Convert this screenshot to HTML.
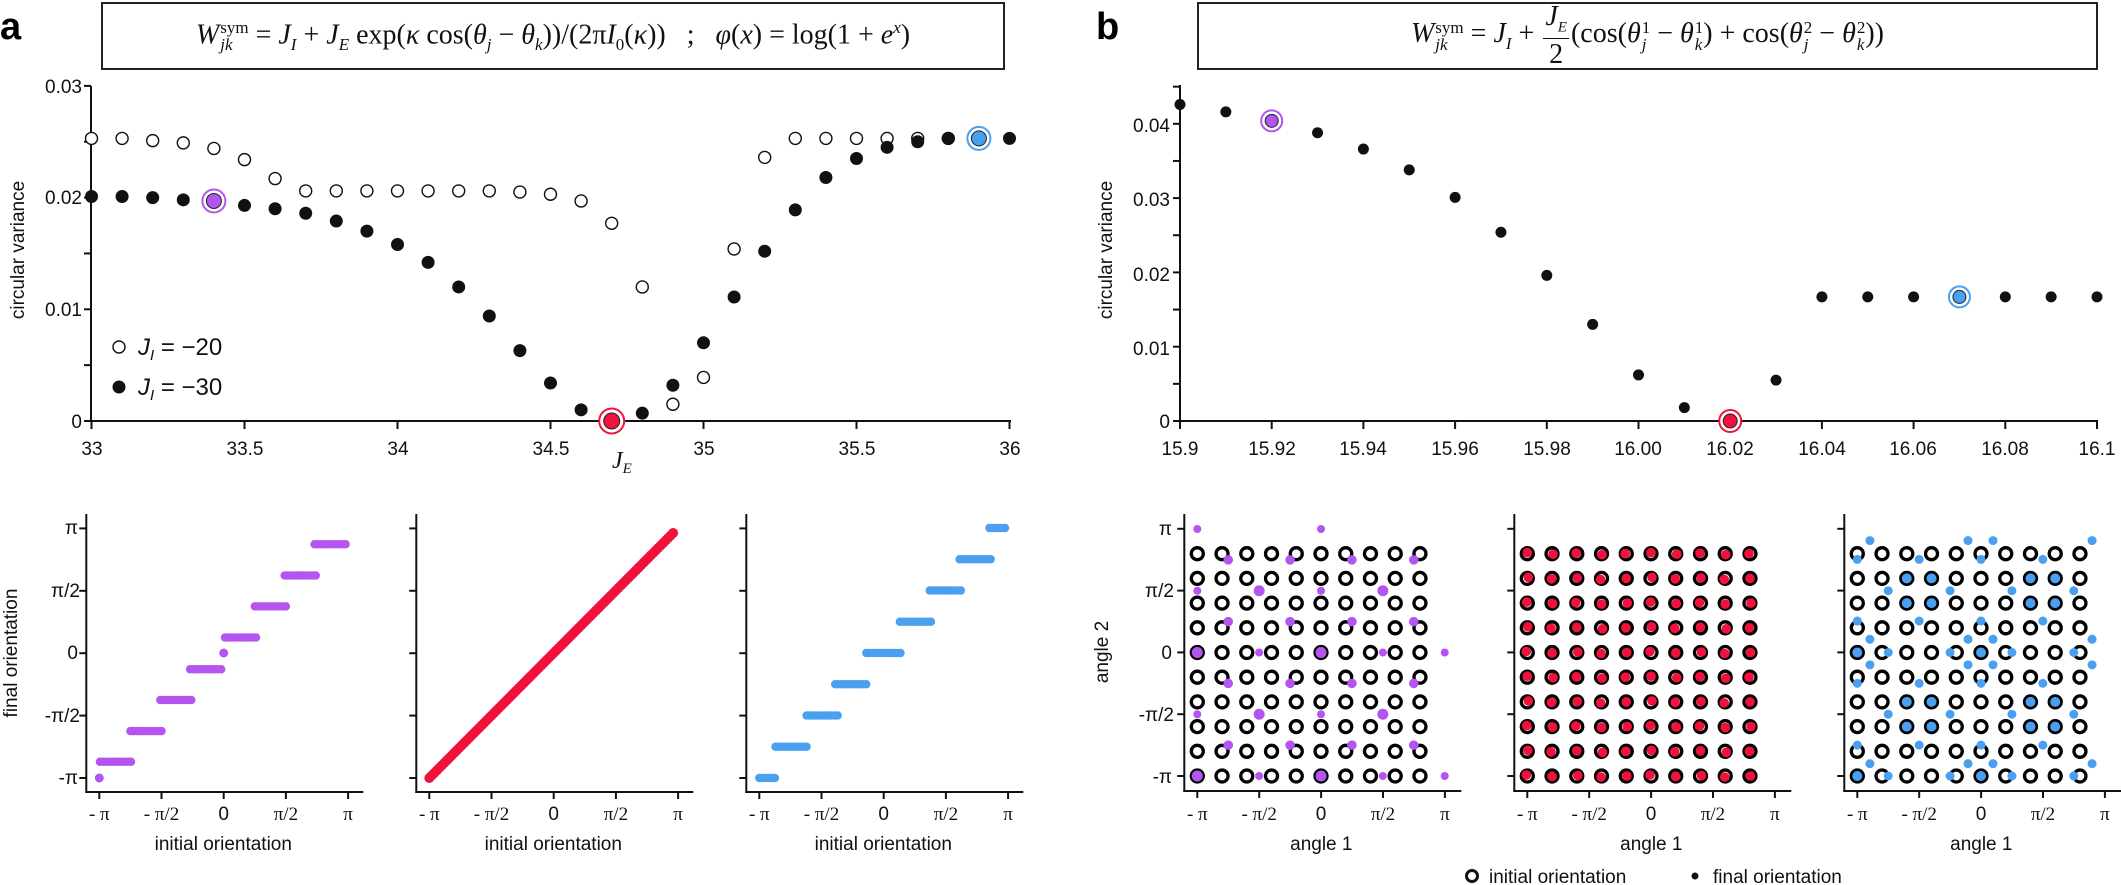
<!DOCTYPE html>
<html><head><meta charset="utf-8">
<style>
html,body{margin:0;padding:0;background:#fff;}
body{width:2121px;height:885px;position:relative;overflow:hidden;font-family:"Liberation Sans",sans-serif;}
.box{position:absolute;border:2px solid #222;box-sizing:border-box;background:#fff;display:flex;align-items:center;justify-content:center;font-family:"Liberation Serif",serif;font-size:28px;color:#111;white-space:nowrap;}
.box i{font-style:italic;}
.fr{display:inline-block;vertical-align:middle;text-align:center;line-height:1;margin:0 2px;}
.fr span{display:block;}
.fr .n{border-bottom:1.5px solid #111;padding:0 2px 2px;}
.fr .d{padding-top:2px;}
.ss{display:inline-block;vertical-align:middle;line-height:1;font-size:17px;text-align:left;margin-left:1px;}
.ss span{display:block;}
.lab{position:absolute;font-weight:bold;font-size:38px;font-family:"Liberation Sans",sans-serif;}
svg{position:absolute;left:0;top:0;}
svg text{font-family:"Liberation Sans",sans-serif;fill:#111;}
</style></head><body>
<div class="lab" style="left:0;top:6px;">a</div>
<div class="lab" style="left:1096px;top:6px;">b</div>
<div class="box" style="left:101px;top:2px;width:904px;height:68px;">
<span><i>W</i><span class="ss"><span>sym</span><span><i>jk</i></span></span> = <i>J</i><sub style="font-size:17px"><i>I</i></sub> + <i>J</i><sub style="font-size:17px"><i>E</i></sub> exp(<i>κ</i> cos(<i>θ</i><sub style="font-size:17px"><i>j</i></sub> − <i>θ</i><sub style="font-size:17px"><i>k</i></sub>))/(2π<i>I</i><sub style="font-size:17px">0</sub>(<i>κ</i>)) &nbsp;&nbsp;;&nbsp;&nbsp; <i>φ</i>(<i>x</i>) = log(1 + <i>e</i><sup style="font-size:17px"><i>x</i></sup>)</span>
</div>
<div class="box" style="left:1197px;top:2px;width:901px;height:68px;">
<span><i>W</i><span class="ss"><span>sym</span><span><i>jk</i></span></span> = <i>J</i><sub style="font-size:17px"><i>I</i></sub> + <span class="fr"><span class="n"><i>J</i><sub style="font-size:15px"><i>E</i></sub></span><span class="d">2</span></span>(cos(<i>θ</i><span class="ss"><span>1</span><span><i>j</i></span></span> − <i>θ</i><span class="ss"><span>1</span><span><i>k</i></span></span>) + cos(<i>θ</i><span class="ss"><span>2</span><span><i>j</i></span></span> − <i>θ</i><span class="ss"><span>2</span><span><i>k</i></span></span>))</span>
</div>

<svg id="s" width="2121" height="885" viewBox="0 0 2121 885">
<g stroke="#111" stroke-width="2" fill="none" id="axes"></g>
<g id="pts"></g>
<g font-size="19" text-anchor="end">
<text x="82" y="93">0.03</text><text x="82" y="204">0.02</text><text x="82" y="316">0.01</text><text x="82" y="428">0</text>
</g>
<g font-size="19" text-anchor="middle">
<text x="92" y="455">33</text><text x="245" y="455">33.5</text><text x="398" y="455">34</text><text x="551" y="455">34.5</text><text x="704" y="455">35</text><text x="857" y="455">35.5</text><text x="1010" y="455">36</text>
</g>
<text x="612" y="468" font-style="italic" font-size="24" style="font-family:'Liberation Serif',serif">J<tspan font-size="15" dy="5">E</tspan></text>
<text transform="translate(24,250) rotate(-90)" font-size="19" text-anchor="middle">circular variance</text>
<g style="font-family:'Liberation Serif',serif" font-size="24" font-style="italic">
<text x="138" y="355">J<tspan font-size="15" dy="5">I</tspan><tspan dy="-5" font-style="normal"> = −20</tspan></text>
<text x="138" y="395">J<tspan font-size="15" dy="5">I</tspan><tspan dy="-5" font-style="normal"> = −30</tspan></text>
</g>
<g font-size="19" text-anchor="end">
<text x="1170" y="132">0.04</text><text x="1170" y="206">0.03</text><text x="1170" y="281">0.02</text><text x="1170" y="355">0.01</text><text x="1170" y="428">0</text>
</g>
<g font-size="19" text-anchor="middle">
<text x="1180" y="455">15.9</text><text x="1272" y="455">15.92</text><text x="1363" y="455">15.94</text><text x="1455" y="455">15.96</text><text x="1547" y="455">15.98</text><text x="1638" y="455">16.00</text><text x="1730" y="455">16.02</text><text x="1822" y="455">16.04</text><text x="1913" y="455">16.06</text><text x="2005" y="455">16.08</text><text x="2097" y="455">16.1</text>
</g>
<text transform="translate(1112,250) rotate(-90)" font-size="19" text-anchor="middle">circular variance</text>
<g font-size="19" text-anchor="end" style="font-family:'Liberation Serif',serif">
<text x="78" y="534">π</text><text x="80" y="597">π/2</text><text x="78" y="659" style="font-family:'Liberation Sans',sans-serif">0</text><text x="80" y="722">-π/2</text><text x="78" y="784">-π</text>
</g>
<text transform="translate(17,653) rotate(-90)" font-size="19" text-anchor="middle">final orientation</text>
<g id="blx" font-size="19" text-anchor="middle"></g>
<g font-size="19" text-anchor="end" style="font-family:'Liberation Serif',serif">
<text x="1172" y="535">π</text><text x="1174" y="597">π/2</text><text x="1172" y="659" style="font-family:'Liberation Sans',sans-serif">0</text><text x="1174" y="721">-π/2</text><text x="1172" y="783">-π</text>
</g>
<text transform="translate(1108,652) rotate(-90)" font-size="19" text-anchor="middle">angle 2</text>
<g id="brx" font-size="19" text-anchor="middle"></g>
<circle cx="1472" cy="876" r="5.5" fill="none" stroke="#111" stroke-width="3"/>
<text x="1489" y="883" font-size="19">initial orientation</text>
<circle cx="1695" cy="876" r="3.5" fill="#111"/>
<text x="1713" y="883" font-size="19">final orientation</text>
</svg>

<script>
(function(){
var NS="http://www.w3.org/2000/svg";
var ax=document.getElementById('axes'),pts=document.getElementById('pts');
function el(p,tag,a){var e=document.createElementNS(NS,tag);for(var k in a)e.setAttribute(k,a[k]);p.appendChild(e);return e;}
function ln(x1,y1,x2,y2){el(ax,'line',{x1:x1,y1:y1,x2:x2,y2:y2});}
function txt(p,x,y,s,fam){var t=el(p,'text',{x:x,y:y});t.textContent=s;if(fam)t.setAttribute('style','font-family:'+fam);return t;}
var PUR="#b455f0",RED="#f0113c",BLU="#4aa0f0";
ln(91,86,91,422);ln(90,421,1011,421);
[0,0.005,0.01,0.015,0.02,0.025,0.03].forEach(function(v){var y=421-v*11170;ln(84,y,91,y);});
for(var j=0;j<=6;j++){var x=91.5+j*153;ln(x,421,x,429);}
function XL(j){return 91.5+(j-33)*306;} function YL(v){return 421-v*11170;}
var open=[.0253,.0253,.0251,.0249,.0244,.0234,.0217,.0206,.0206,.0206,.0206,.0206,.0206,.0206,.0205,.0203,.0197,.0177,.012,.0015,.0039,.0154,.0236,.0253,.0253,.0253,.0253,.0253,.0253,null,null];
var fill=[.0201,.0201,.02,.0198,null,.0193,.019,.0186,.0179,.017,.0158,.0142,.012,.0094,.0063,.0034,.001,null,.0007,.0032,.007,.0111,.0152,.0189,.0218,.0235,.0245,.025,.0253,null,.0253];
open.forEach(function(v,i){if(v===null)return;el(pts,'circle',{cx:XL(33+i*0.1),cy:YL(v),r:6,fill:'#fff',stroke:'#111','stroke-width':1.4});});
fill.forEach(function(v,i){if(v===null)return;el(pts,'circle',{cx:XL(33+i*0.1),cy:YL(v),r:6.5,fill:'#111'});});
function hl(x,y,c,r1,r2){el(pts,'circle',{cx:x,cy:y,r:r2,fill:'#fff',stroke:c,'stroke-width':2});el(pts,'circle',{cx:x,cy:y,r:r1,fill:c,stroke:'#222','stroke-width':1});}
hl(XL(33.4),YL(.0197),PUR,7.5,11.5);
hl(XL(34.7),YL(0),RED,8,12.5);
hl(XL(35.9),YL(.0253),BLU,7.5,11.5);
el(pts,'circle',{cx:119,cy:347,r:6,fill:'#fff',stroke:'#111','stroke-width':1.4});
el(pts,'circle',{cx:119,cy:387,r:6.5,fill:'#111'});
ln(1180,85,1180,422);ln(1179,421,2098,421);
for(var k=0;k<=9;k++){var y=421-k*0.005*7430;ln(1173,y,1180,y);}
for(var k=0;k<=10;k++){var x=1180+k*91.7;ln(x,421,x,429);}
function XR(j){return 1180+(j-15.9)*4585;} function YR(v){return 421-v*7430;}
var rv=[.0426,.0416,null,.0388,.0366,.0338,.0301,.0254,.0196,.013,.0062,.0018,null,.0055,.0167,.0167,.0167,null,.0167,.0167,.0167];
rv.forEach(function(v,i){if(v===null)return;el(pts,'circle',{cx:XR(15.9+i*0.01),cy:YR(v),r:5.5,fill:'#111'});});
hl(XR(15.92),YR(.0404),PUR,6.5,10.5);
hl(XR(16.02),YR(0),RED,7,11);
hl(XR(16.07),YR(.0167),BLU,6.5,10.5);
var blx=document.getElementById('blx'),brx=document.getElementById('brx');
var xl=['- π','- π/2','0','π/2','π'];
function panelAxes(ox,ylab,g,lab){
  var axx=ox-13;
  ln(axx,514,axx,793);ln(axx-1,792,axx+277,792);
  for(var k=0;k<5;k++){var y=778-k*62.4;ln(axx-7,y,axx,y);var x=ox+k*62.2;ln(x,792,x,799);
    txt(g,x,820,xl[k],k==2?null:"'Liberation Serif',serif");}
  txt(g,ox+124,850,lab);
}
[99.3,429.3,759.3].forEach(function(o){panelAxes(o,0,blx,'initial orientation');});
function U(o,u){return o+124.4+u*124.4;} function V(v){return 653-v*125;}
var pb=[[-0.995,-0.727,-0.87],[-0.75,-0.49,-0.625],[-0.51,-0.24,-0.376],[-0.27,0.0,-0.13],[0.01,0.27,0.124],[0.25,0.51,0.373],[0.49,0.75,0.62],[0.73,0.99,0.87]];
function bar(o,a,b,v,c){for(var u=a;u<=b+1e-6;u+=0.025)el(pts,'circle',{cx:U(o,u),cy:V(v),r:4.2,fill:c});}
pb.forEach(function(s){bar(99.3,s[0],s[1],s[2],PUR);});
el(pts,'circle',{cx:U(99.3,-1),cy:V(-1),r:4.5,fill:PUR});
el(pts,'circle',{cx:U(99.3,0),cy:V(0),r:4.5,fill:PUR});
for(var u=-1;u<=0.965;u+=0.02)el(pts,'circle',{cx:U(429.3,u),cy:V(u),r:5,fill:RED});
var bb=[[-1.0,-0.86,-1],[-0.87,-0.61,-0.75],[-0.62,-0.36,-0.5],[-0.39,-0.12,-0.25],[-0.14,0.15,0],[0.13,0.39,0.25],[0.37,0.64,0.5],[0.61,0.87,0.75],[0.85,0.99,1]];
bb.forEach(function(s){bar(759.3,s[0],s[1],s[2],BLU);});
var xl2=['- π','- π/2','0','π/2','π'];
function gridAxes(ox){var axx=ox-13;ln(axx,514,axx,792);ln(axx-1,791,axx+277,791);
  for(var k=0;k<5;k++){var y=776-k*61.8;ln(axx-7,y,axx,y);var x=ox+k*61.9;ln(x,791,x,798);
    txt(brx,x,820,xl2[k],k==2?null:"'Liberation Serif',serif");}
  txt(brx,ox+124,850,'angle 1');}
function GU(o,u){return o+123.7+u*123.7;} function GV(v){return 652.5-v*123.5;}
[1197.3,1527.3,1857.3].forEach(function(o,gi){
  gridAxes(o);
  for(var i=0;i<10;i++)for(var k=0;k<10;k++){
    var cx=GU(o,-1+0.2*i),cy=GV(-1+0.2*k);
    el(pts,'circle',{cx:cx,cy:cy,r:6,fill:'#fff',stroke:'#000','stroke-width':3.3});
    if(gi==1){var dx=((i*7+k*3)%5-2)*0.5,dy=((i*3+k*5)%5-2)*0.5;el(pts,'circle',{cx:cx+dx,cy:cy+dy,r:4.8,fill:RED});}
  }
});
var o1=1197.3;
function d(o,u,v,r,c){el(pts,'circle',{cx:GU(o,u),cy:GV(v),r:r,fill:c});}
[[-1,1,4],[0,1,4]].forEach(function(p){d(o1,p[0],p[1],p[2],PUR);});
[0.75,0.25,-0.25,-0.75].forEach(function(v){[-0.75,-0.25,0.25,0.75].forEach(function(u){d(o1,u,v,4.8,PUR);});});
[0.5,-0.5].forEach(function(v){d(o1,-1,v,4,PUR);d(o1,-0.5,v,5.5,PUR);d(o1,0,v,4,PUR);d(o1,0.5,v,5.5,PUR);});
[0,-1].forEach(function(v){d(o1,-1,v,5.5,PUR);d(o1,-0.5,v,4,PUR);d(o1,0,v,5.5,PUR);d(o1,0.5,v,4,PUR);d(o1,1,v,4,PUR);});
var o3=1857.3;
[0.906,0.107,-0.1,-0.9].forEach(function(v){[-0.898,-0.105,0.097,0.898].forEach(function(u){d(o3,u,v,4.5,BLU);});});
[0.754,0.255,-0.25,-0.75].forEach(function(v){[-1,-0.5,0,0.5].forEach(function(u){d(o3,u,v,4.5,BLU);});});
[0.6,0.4,-0.4,-0.6].forEach(function(v){[-0.6,-0.4,0.4,0.6].forEach(function(u){d(o3,u,v,5,BLU);});});
[0.5,-0.5].forEach(function(v){[-0.75,-0.25,0.25,0.75].forEach(function(u){d(o3,u,v,4.5,BLU);});});
[0,-1].forEach(function(v){d(o3,-1,v,5,BLU);d(o3,-0.75,v,4.5,BLU);d(o3,-0.25,v,4.5,BLU);d(o3,0,v,5,BLU);d(o3,0.25,v,4.5,BLU);d(o3,0.75,v,4.5,BLU);});
})();
</script>
</body></html>
